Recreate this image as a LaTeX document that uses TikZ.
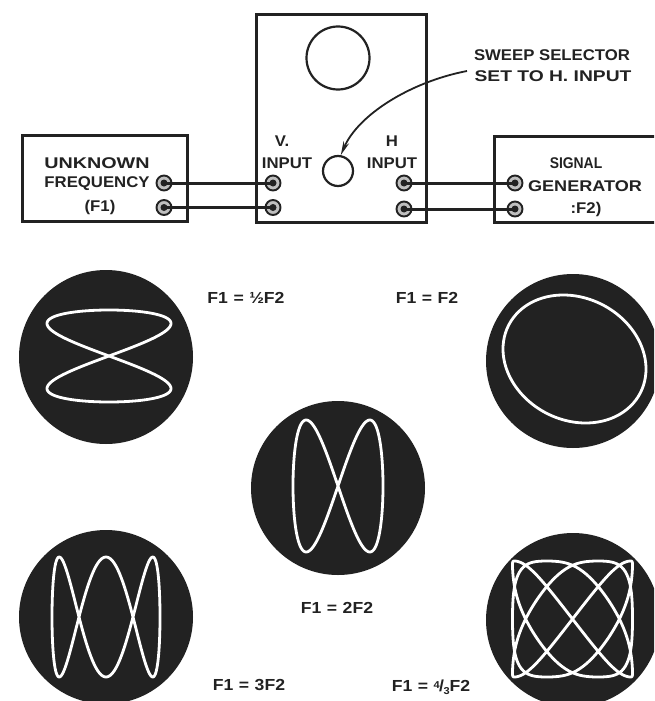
\documentclass[tikz,border=0pt]{standalone}
\usepackage{fontspec}
\setmainfont{Liberation Sans}
\usetikzlibrary{arrows.meta}
\definecolor{ink}{HTML}{222222}
\tikzset{
  panel/.style={draw=ink,line width=2.8pt,fill=white,inner sep=0pt,anchor=north west},
  jack/.style={circle,draw=ink,line width=1.9pt,fill=black!25,minimum size=15pt,inner sep=0pt},
  jackdot/.style={circle,fill=ink,minimum size=7pt,inner sep=0pt},
  wire/.style={draw=ink,line width=3pt},
  lab/.style={font=\fontsize{15.5}{18}\selectfont\bfseries,text=ink,inner sep=0pt,xscale=1.08},
  flab/.style={font=\fontsize{16}{18}\selectfont\bfseries,text=ink,inner sep=0pt,xscale=1.1},
  disc/.style={circle,fill=ink,minimum size=174pt,inner sep=0pt},
  trace/.style={draw=white,line width=2.8pt,line join=round},
  dial/.style={circle,draw=ink,line width=2.2pt,fill=white,inner sep=0pt},
  declare function={wrp(\u)=1.12*\u-0.12*\u*\u*\u*\u*\u*\u*\u;}
}
\newcommand{\eqgap}{\kern5pt=\kern5pt}
\begin{document}
\begin{tikzpicture}[x=1pt,y=-1pt]
\useasboundingbox (0,0) rectangle (654,701);
\clip (0,0) rectangle (654,701);
\fill[white] (0,0) rectangle (654,701);
% equipment boxes
\node[panel,minimum width=170pt,minimum height=208pt] (scope) at (255,13) {};
\node[panel,minimum width=165pt,minimum height=86pt] (unk) at (21,134) {};
\node[panel,minimum width=170pt,minimum height=86pt] (gen) at (493,135) {};
\node[dial,minimum size=63pt] (screen) at (338,58) {};
\node[dial,minimum size=30pt] (knob) at (338,171) {};
% jacks
\node[jack] (a1) at (164,183) {};
\node[jack] (a2) at (164,207.5) {};
\node[jack] (b1) at (273,183) {};
\node[jack] (b2) at (273,207.5) {};
\node[jack] (c1) at (404,183) {};
\node[jack] (c2) at (404,209) {};
\node[jack] (d1) at (515,183) {};
\node[jack] (d2) at (515,209) {};
\draw[wire] (a1.center) -- (b1.center);
\draw[wire] (a2.center) -- (b2.center);
\draw[wire] (c1.center) -- (d1.center);
\draw[wire] (c2.center) -- (d2.center);
\foreach \j in {a1,a2,b1,b2,c1,c2,d1,d2} \node[jackdot] at (\j.center) {};
% labels
\node[lab,xscale=1.18] at (97,163) {UNKNOWN};
\node[lab] at (97,184) {FREQUENCY};
\node[lab] at (100,207) {(F1)};
\node[lab] at (282,141) {V.};
\node[lab] at (287,163) {INPUT};
\node[lab] at (392,141) {H};
\node[lab] at (392,163) {INPUT};
\node[lab,xscale=0.83] at (576,163) {SIGNAL};
\node[lab,xscale=1.08] at (585,186) {GENERATOR};
\node[lab] at (586,209) {:F2)};
\node[lab] (sw1) at (552,55) {SWEEP SELECTOR};
\node[lab,xscale=1.15] (sw2) at (553,76) {SET TO H. INPUT};
\coordinate (tail) at (467,71);
\draw[ink,line width=1.8pt,-{Stealth[length=14pt,width=6pt]}] (tail) .. controls (410,82) and (358,115) .. (knob.80);
% oscilloscope patterns
\node[disc] (p1) at (106,357) {};
\node[disc] (p2) at (573,361) {};
\node[disc] (p3) at (338,488) {};
\node[disc] (p4) at (106,617) {};
\node[disc] (p5) at (573,620) {};
\draw[trace] plot[domain=0:360,samples=181,smooth cycle] ({109+62*sin(2*\x)},{356+46*sin(\x)});
\draw[trace] plot[domain=0:356,samples=90,smooth cycle] ({574.5+71.5*cos(\x-9)},{359+64*sin(\x)});
\draw[trace] plot[domain=0:360,samples=181,smooth cycle] ({338+45*sin(\x)},{486+66*sin(2*\x)});
\draw[trace] plot[domain=0:360,samples=241,smooth cycle] ({106+54*sin(\x)},{617+60*cos(3*\x)});
\draw[trace] plot[domain=0:360,samples=361,smooth cycle] ({572.5+60*wrp(sin(3*\x))},{619+58*wrp(sin(4*\x))});
% ratios
\node[flab] at (246,298) {F1\eqgap ½F2};
\node[flab] at (427,298) {F1\eqgap F2};
\node[flab] at (337,608) {F1\eqgap 2F2};
\node[flab] at (249,685) {F1\eqgap 3F2};
\node[flab] at (431,687) {F1\eqgap\raisebox{3pt}{\fontsize{10}{10}\selectfont 4}\kern-0.5pt/\kern-0.5pt\raisebox{-3pt}{\fontsize{10}{10}\selectfont 3}F2};
\end{tikzpicture}
\end{document}
